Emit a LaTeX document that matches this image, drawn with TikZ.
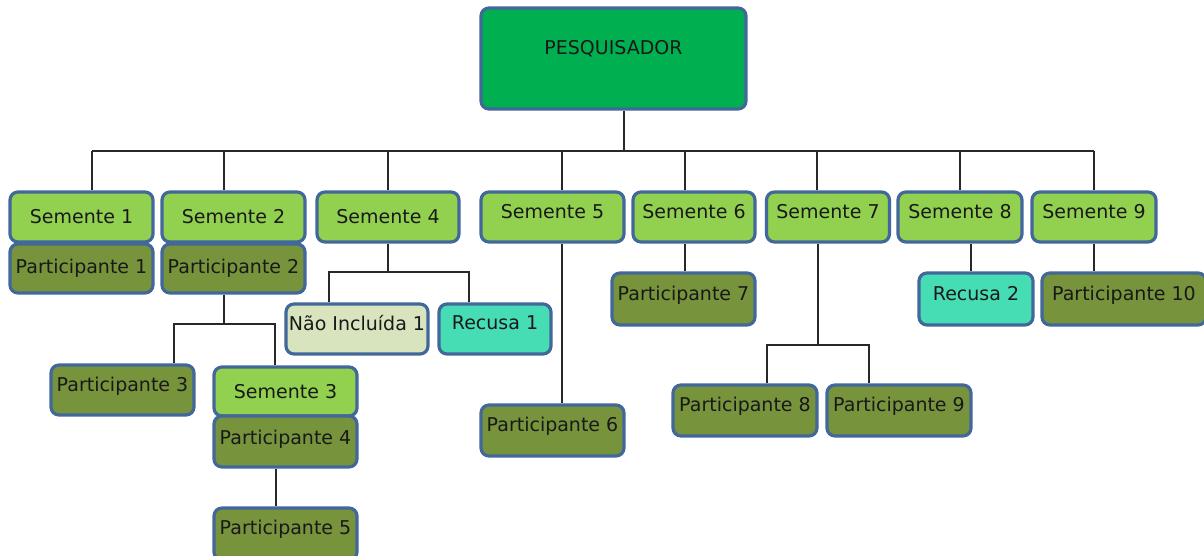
\documentclass[tikz,border=0pt]{standalone}
\usepackage{fontspec}
\setmainfont{DejaVu Sans}
\definecolor{rim}{RGB}{66,103,154}
\definecolor{semente}{RGB}{146,208,80}
\definecolor{partic}{RGB}{119,147,60}
\definecolor{pesq}{RGB}{0,176,80}
\definecolor{recusa}{RGB}{70,221,181}
\definecolor{naoinc}{RGB}{215,228,189}
\definecolor{wire}{RGB}{40,40,40}
\definecolor{ink}{RGB}{25,25,25}
\newcommand{\lift}[2][12pt]{\raisebox{#1}{#2}}

\tikzset{every picture/.style={line width=1.3pt}}

\begin{document}
\begin{tikzpicture}[x=1pt,y=-1pt,
    box/.style={draw=rim,line width=3.2pt,rounded corners=8pt,inner sep=0pt,text=ink,
        minimum height=50pt,minimum width=143pt,font=\fontsize{19}{22}\selectfont},
    sem/.style={box,fill=semente},
    par/.style={box,fill=partic},
    rec/.style={box,fill=recusa},
    link/.style={draw=wire,line width=1.2pt}]
    \useasboundingbox (0,0) rectangle (1204,556);

    \node [box,fill=pesq,minimum width=265pt,minimum height=101pt,font=\fontsize{19}{22}\selectfont] (pesquisador) at (613.5,58.5) {\lift[22pt]{PESQUISADOR}};

    \node [sem] (s1) at (81.5,217) {\lift[-4pt]{Semente 1}};
    \node [par,minimum height=49pt] (p1) at (81.5,268.5) {\lift[-4pt]{Participante 1}};
    \node [sem] (s2) at (233.5,217) {\lift[-4pt]{Semente 2}};
    \node [par,minimum height=49pt] (p2) at (233.5,268.5) {\lift[-4pt]{Participante 2}};
    \node [sem,minimum width=142pt] (s4) at (388,217) {\lift[-4pt]{Semente 4}};
    \node [sem] (s5) at (552.5,217) {\lift{Semente 5}};
    \node [sem,minimum width=122pt] (s6) at (694,217) {\lift{Semente 6}};
    \node [sem,minimum width=123pt] (s7) at (828,217) {\lift{Semente 7}};
    \node [sem,minimum width=124pt] (s8) at (960,217) {\lift{Semente 8}};
    \node [sem,minimum width=124pt] (s9) at (1094,217) {\lift{Semente 9}};

    \node [par,minimum height=52pt] (p7) at (683.5,299) {\lift{Participante 7}};
    \node [par,minimum height=51pt] (p6) at (552.5,430.5) {\lift{Participante 6}};
    \node [box,fill=naoinc,minimum width=142pt] (ni1) at (357,329) {\lift{Não Incluída 1}};
    \node [rec,minimum width=112pt] (r1) at (495,329) {\lift{Recusa 1}};
    \node [par] (p3) at (122.5,390) {\lift{Participante 3}};
    \node [sem,minimum height=49pt] (s3) at (285.5,391.5) {\lift[-4pt]{Semente 3}};
    \node [par,minimum height=51pt] (p4) at (285.5,441.5) {\lift[8pt]{Participante 4}};
    \node [par,minimum height=52pt] (p5) at (285.5,534) {\lift[14pt]{Participante 5}};
    \node [rec,minimum width=114pt,minimum height=52pt] (r2) at (976,299) {\lift{Recusa 2}};
    \node [par,minimum width=164pt,minimum height=52pt] (p10) at (1124,299) {\lift{Participante 10}};
    \node [par,minimum width=144pt,minimum height=51pt] (p8) at (745,410.5) {\lift{Participante 8}};
    \node [par,minimum width=144pt,minimum height=51pt] (p9) at (899,410.5) {\lift{Participante 9}};

    % main bus
    \coordinate (b0) at (624,151);
    \coordinate (b1) at (92,151);
    \coordinate (b2) at (224,151);
    \coordinate (b5) at (562,151);
    \coordinate (b6) at (685,151);
    \coordinate (b7) at (817,151);
    \coordinate (b9) at (1094,151);
    \draw [link] (pesquisador.south -| b0) -- (b0);
    \draw [link] (b1) -- (b9);
    \draw [link] (b1) -- (b1 |- s1.north);
    \draw [link] (b2) -- (b2 |- s2.north);
    \draw [link] (s4.north |- b1) -- (s4.north);
    \draw [link] (b5) -- (b5 |- s5.north);
    \draw [link] (b6) -- (b6 |- s6.north);
    \draw [link] (b7) -- (b7 |- s7.north);
    \draw [link] (s8.north |- b1) -- (s8.north);
    \draw [link] (b9) -- (s9.north);

    % branches
    \coordinate (k2) at (224,324);
    \draw [link] (k2 |- p2.south) -- (k2);
    \draw [link] (p3.north -| 174,0) |- (k2) -| (s3.north -| 275,0);
    \draw [link] (s4.south) -- (s4.south |- 0,272);
    \draw [link] (ni1.north -| 329,0) |- (s4.south |- 0,272) -| (r1.north -| 469,0);
    \draw [link] (s5.south -| b5) -- (p6.north -| b5);
    \draw [link] (s6.south -| b6) -- (p7.north -| b6);
    \coordinate (k7) at (818,345);
    \draw [link] (s7.south -| k7) -- (k7);
    \draw [link] (p8.north -| 767,0) |- (k7) -| (p9.north -| 869,0);
    \draw [link] (s8.south -| 971,0) -- (r2.north -| 971,0);
    \draw [link] (s9.south) -- (p10.north -| s9.south);
    \draw [link] (p4.south -| 276,0) -- (p5.north -| 276,0);
\end{tikzpicture}
\end{document}
